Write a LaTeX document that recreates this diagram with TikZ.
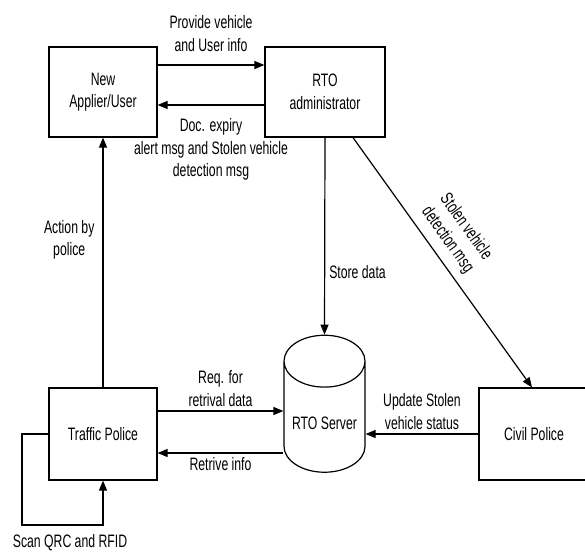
\documentclass[tikz,border=0pt]{standalone}
\usepackage{fontspec}
\setmainfont{Liberation Sans}[FakeStretch=0.68]
\usetikzlibrary{arrows.meta,shapes.geometric}

\tikzset{
  box/.style={draw, line width=1.2pt, align=center, inner sep=0pt},
  db/.style={draw, line width=1.2pt, cylinder, shape border rotate=90, aspect=0.8, inner sep=0pt},
  flow/.style={line width=1.2pt, -{Triangle[length=10pt,width=8pt]}},
  lbl/.style={align=center, inner sep=4pt}
}

\begin{document}
\begin{tikzpicture}[x=1pt, y=1pt, font=\fontsize{18}{22.5}\selectfont]

    \useasboundingbox (0,0) rectangle (585,-554);

    % Entities
    \node[box, minimum width=108pt, minimum height=90pt] (user) at (103,-92) {New\\Applier/User};
    \node[box, minimum width=120pt, minimum height=90pt] (admin) at (325,-92) {RTO\\administrator};
    \node[box, minimum width=108pt, minimum height=92pt] (traffic) at (103,-434) {Traffic Police};
    \node[box, minimum width=110pt, minimum height=92pt] (civil) at (534,-434) {Civil Police};

    % Server
    \node[db, minimum width=81pt, minimum height=137pt] (server) at (324.5,-417) {\raisebox{-12pt}[0pt][0pt]{RTO Server}};

    % User <-> admin
    \draw[flow] ([yshift=27pt]user.east) -- ([yshift=27pt]user.east -| admin.west)
        node[lbl, midway, above, yshift=9pt] {Provide vehicle\\and User info};
    \draw[flow] ([yshift=-13pt]admin.west) -- ([yshift=-13pt]admin.west -| user.east)
        node[lbl, midway, below, yshift=-9pt] {Doc. expiry\\alert msg and Stolen vehicle\\detection msg};

    % admin -> server / civil police
    \draw[flow] (admin.south) -- (server.north)
        node[lbl, pos=0.68, right] {Store data};
    \draw[flow] ([xshift=28pt]admin.south) -- ([xshift=-2pt]civil.north)
        node[lbl, pos=0.45, above, sloped, yshift=4pt] {Stolen vehicle\\detection msg};

    % traffic police <-> server
    \draw[flow] ([yshift=23pt]traffic.east) -- ([yshift=23pt]traffic.east -| server.west)
        node[lbl, midway, above] {Req. for\\retrival data};
    \draw[flow] ([yshift=-19pt]traffic.east -| server.west) -- ([yshift=-19pt]traffic.east)
        node[lbl, midway, below] {Retrive info};

    % civil police -> server
    \draw[flow] (civil.west) -- (civil.west -| server.east)
        node[lbl, midway, above] {Update Stolen\\vehicle status};

    % traffic police -> user
    \draw[flow] (traffic.north) -- (user.south)
        node[lbl, pos=0.59, left, xshift=-4pt] {Action by\\police};

    % self loop
    \coordinate (loopA) at (22,-434);
    \coordinate (loopB) at (22,-525);
    \draw[flow] (traffic.west) -- (loopA) -- (loopB) -- (loopB -| traffic.south) -- (traffic.south);
    \node[lbl] (scan) at (70,-543) {Scan QRC and RFID};

\end{tikzpicture}
\end{document}
